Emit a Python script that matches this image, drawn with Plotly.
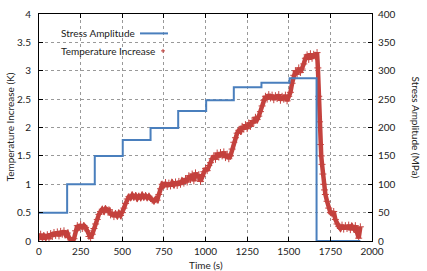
import plotly.graph_objects as go

# Stress amplitude steps (time at step start, MPa)
stress_time_s = [0, 169, 335, 503, 670, 836, 1004, 1170, 1336, 1505, 1667, 1930]
stress_mpa = [50, 100, 150, 178, 199, 229, 248, 271, 279, 287, 0, 0]

# Temperature increase samples (time s, K)
temp_time_s = [
    0, 10, 20, 30, 40, 50, 60, 70, 80, 90, 100, 110, 120, 130, 140, 150, 160, 170, 180, 190,
    200, 210, 220, 230, 240, 250, 260, 270, 280, 290, 300, 310, 320, 330, 340, 350, 360, 370, 380, 390,
    400, 410, 420, 430, 440, 450, 460, 470, 480, 490, 500, 510, 520, 530, 540, 550, 560, 570, 580, 590,
    600, 610, 620, 630, 640, 650, 660, 670, 680, 690, 700, 710, 720, 730, 740, 750, 760, 770, 780, 790,
    800, 810, 820, 830, 840, 850, 860, 870, 880, 890, 900, 910, 920, 930, 940, 950, 960, 970, 980, 990,
    1000, 1010, 1020, 1030, 1040, 1050, 1060, 1070, 1080, 1090, 1100, 1110, 1120, 1130, 1140, 1150, 1160, 1170, 1180, 1190,
    1200, 1210, 1220, 1230, 1240, 1250, 1260, 1270, 1280, 1290, 1300, 1310, 1320, 1330, 1340, 1350, 1360, 1370, 1380, 1390,
    1400, 1410, 1420, 1430, 1440, 1450, 1460, 1470, 1480, 1490, 1500, 1510, 1520, 1530, 1540, 1550, 1560, 1570, 1580, 1590,
    1600, 1610, 1620, 1630, 1640, 1650, 1660, 1670,
    1675, 1680, 1685, 1690, 1695, 1700, 1705, 1710, 1715, 1720,
    1730, 1740, 1750, 1760, 1770, 1780, 1790, 1800, 1810, 1820,
    1830, 1840, 1850, 1860, 1870, 1880, 1890, 1900, 1910, 1920, 1930,
]
temp_k = [
    0.05, 0.12, 0.03, 0.09, 0.06, 0.11, 0.04, 0.13, 0.08, 0.15, 0.10, 0.16, 0.09, 0.17, 0.12, 0.18, 0.11, 0.14, 0.06, 0.02,
    0.00, 0.04, 0.18, 0.27, 0.24, 0.29, 0.22, 0.27, 0.24, 0.18, 0.08, 0.05, 0.12, 0.22, 0.30, 0.38, 0.47, 0.52, 0.56, 0.52,
    0.57, 0.54, 0.55, 0.46, 0.50, 0.43, 0.48, 0.44, 0.49, 0.45, 0.50, 0.58, 0.66, 0.74, 0.78, 0.76, 0.81, 0.77, 0.80, 0.75,
    0.79, 0.76, 0.81, 0.77, 0.80, 0.76, 0.79, 0.75, 0.72, 0.70, 0.74, 0.72, 0.82, 0.92, 1.00, 0.98, 1.03, 0.96, 1.02, 0.97,
    1.03, 0.99, 1.04, 0.98, 1.05, 1.00, 1.06, 1.02, 1.10, 1.04, 1.15, 1.08, 1.18, 1.06, 1.20, 1.12, 1.17, 1.05, 1.14, 1.22,
    1.28, 1.24, 1.33, 1.38, 1.45, 1.50, 1.44, 1.55, 1.48, 1.56, 1.50, 1.57, 1.47, 1.53, 1.45, 1.50, 1.62, 1.74, 1.82, 1.90,
    1.95, 1.93, 2.02, 1.97, 2.05, 1.98, 2.08, 2.02, 2.12, 2.08, 2.18, 2.14, 2.20, 2.28, 2.38, 2.48, 2.55, 2.50, 2.58, 2.52,
    2.57, 2.49, 2.56, 2.51, 2.58, 2.48, 2.55, 2.50, 2.57, 2.47, 2.55, 2.62, 2.78, 2.92, 3.00, 2.94, 3.05, 2.97, 3.03, 3.12,
    3.22, 3.28, 3.20, 3.30, 3.22, 3.29, 3.25, 3.32,
    3.05, 2.55, 2.10, 1.70, 1.50, 1.35, 1.18, 1.00, 0.90, 0.82,
    0.70, 0.58, 0.50, 0.48, 0.52, 0.38, 0.30, 0.26, 0.22, 0.28,
    0.21, 0.27, 0.22, 0.28, 0.20, 0.26, 0.22, 0.27, 0.15, 0.05, 0.25,
]

x_ticks = [0, 250, 500, 750, 1000, 1250, 1500, 1750, 2000]
y_left_ticks = [0, 0.5, 1, 1.5, 2, 2.5, 3, 3.5, 4]
y_left_labels = ["0", "0.5", "1", "1.5", "2", "2.5", "3", "3.5", "4"]
y_right_ticks = [0, 50, 100, 150, 200, 250, 300, 350, 400]

FONT = "Lato"
RED = "#c4423e"
BLUE = "#4a7fbd"
TXT = "#222"

L, R, T, B = 39, 55, 7, 30
W, H = 427, 271
pw, ph = W - L - R, H - T - B


def px(x):
    return (x - L) / pw


def py(y):
    return 1 - (y - T) / ph


fig = go.Figure()
fig.add_trace(go.Scatter(
    x=temp_time_s, y=temp_k, mode="lines+markers", name="Temperature Increase",
    line=dict(color=RED, width=4.5),
    marker=dict(symbol="cross-thin", size=5, line=dict(color=RED, width=1), color=RED),
    yaxis="y", showlegend=False,
))
fig.add_trace(go.Scatter(
    x=stress_time_s, y=stress_mpa, mode="lines", name="Stress Amplitude",
    line=dict(color=BLUE, width=2, shape="hv"), yaxis="y2", showlegend=False,
))

tickfont = dict(family=FONT, size=10, color=TXT)
fig.update_layout(
    width=W, height=H,
    margin=dict(l=L, r=R, t=T, b=B),
    paper_bgcolor="white", plot_bgcolor="white",
    font=dict(family=FONT, size=10, color=TXT),
    xaxis=dict(range=[0, 2000], tickvals=x_ticks, showgrid=True,
               gridcolor="#999", griddash="dot", gridwidth=1,
               showline=True, linecolor="black", linewidth=1, mirror="ticks",
               ticks="inside", ticklen=4, tickcolor="black", tickfont=tickfont,
               ticklabelstandoff=1, zeroline=False),
    yaxis=dict(range=[0, 4], tickvals=y_left_ticks, ticktext=y_left_labels, showgrid=True,
               gridcolor="#999", griddash="dot", gridwidth=1,
               showline=True, linecolor="black", linewidth=1, mirror=True,
               ticks="inside", ticklen=4, tickcolor="black", tickfont=tickfont,
               ticklabelstandoff=5, zeroline=False),
    yaxis2=dict(range=[0, 400], tickvals=y_right_ticks, overlaying="y", side="right",
                showgrid=False, showline=False, ticks="inside", ticklen=4, tickcolor="black",
                tickfont=tickfont, ticklabelstandoff=5, zeroline=False),
    showlegend=False,
)

ann = [
    dict(text="Time (s)", x=0.5, y=0, xref="paper", yref="paper", yshift=-24,
         showarrow=False, xanchor="center", yanchor="middle", font=dict(size=10)),
    dict(text="Temperature Increase (K)", x=0, y=0.5, xref="paper", yref="paper", xshift=-30,
         textangle=-90, showarrow=False, xanchor="center", yanchor="middle", font=dict(size=10)),
    dict(text="Stress Amplitude (MPa)", x=1, y=0.5, xref="paper", yref="paper", xshift=44,
         textangle=90, showarrow=False, xanchor="center", yanchor="middle", font=dict(size=10)),
    dict(text="Stress Amplitude", x=px(59), y=py(27), xref="paper", yref="paper", showarrow=False,
         xanchor="left", yanchor="middle", font=dict(size=10)),
    dict(text="Temperature Increase", x=px(59), y=py(45), xref="paper", yref="paper", showarrow=False,
         xanchor="left", yanchor="middle", font=dict(size=10)),
]
fig.update_layout(annotations=ann)

# white key box hiding the grid behind the legend
fig.add_shape(type="rect", xref="paper", yref="paper", layer="between",
              x0=px(48), x1=px(183), y0=py(56), y1=py(12),
              fillcolor="white", line=dict(width=0))
# legend samples
fig.add_shape(type="line", xref="paper", yref="paper",
              x0=px(140), x1=px(168), y0=py(27), y1=py(27),
              line=dict(color=BLUE, width=2))
cx, cy = px(163), py(45)
dx, dy = 2 / pw, 2 / ph
fig.add_shape(type="line", xref="paper", yref="paper", x0=cx - dx, x1=cx + dx, y0=cy, y1=cy,
              line=dict(color=RED, width=1))
fig.add_shape(type="line", xref="paper", yref="paper", x0=cx, x1=cx, y0=cy - dy, y1=cy + dy,
              line=dict(color=RED, width=1))

fig.write_html("out.html")
